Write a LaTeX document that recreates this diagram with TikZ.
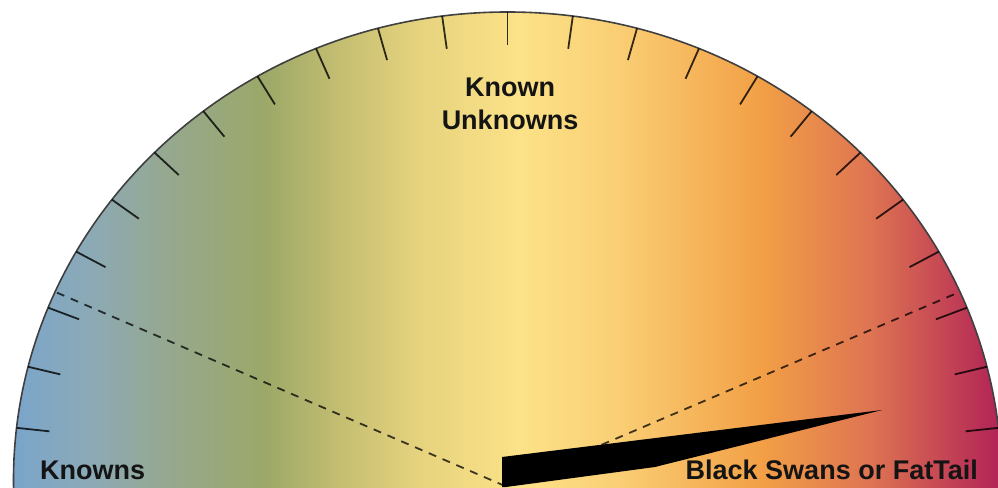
\documentclass[tikz,border=0pt]{standalone}
\usepackage{fontspec}
\setmainfont{Liberation Sans}
\usetikzlibrary{calc}
\definecolor{s0}{RGB}{118,164,206}
\definecolor{s1}{RGB}{140,170,182}
\definecolor{s2}{RGB}{150,168,142}
\definecolor{s3}{RGB}{156,168,104}
\definecolor{s4}{RGB}{196,190,114}
\definecolor{s5}{RGB}{230,211,126}
\definecolor{s6}{RGB}{252,226,136}
\definecolor{s7}{RGB}{250,206,116}
\definecolor{s8}{RGB}{242,160,70}
\definecolor{s9}{RGB}{222,116,82}
\definecolor{s10}{RGB}{178,36,86}
\definecolor{inkc}{RGB}{20,20,20}
\begin{document}
\begin{tikzpicture}[x=1pt,y=1pt,
  tickmark/.style={line width=1.8pt, draw=black, draw opacity=0.8},
  dashline/.style={line width=1.8pt, draw=black, draw opacity=0.75, dash pattern=on 8pt off 7pt},
  rim/.style={line width=1.6pt, draw=black!75},
  lbl/.style={font=\fontsize{27}{33}\selectfont\bfseries, text=inkc, inner sep=0pt}]
\useasboundingbox (0,0) rectangle (998,487);
\coordinate (C) at (507.5,7);
\coordinate (piv) at (505,1);
% gradient fill
\begin{scope}
  \clip (0,0) rectangle (998,487);
  \clip (C) ellipse [x radius=494, y radius=468];
  \shade[left color=s0, right color=s1] (0,0) rectangle (90,487);
  \shade[left color=s1, right color=s2] (90,0) rectangle (170,487);
  \shade[left color=s2, right color=s3] (170,0) rectangle (265,487);
  \shade[left color=s3, right color=s4] (265,0) rectangle (340,487);
  \shade[left color=s4, right color=s5] (340,0) rectangle (420,487);
  \shade[left color=s5, right color=s6] (420,0) rectangle (520,487);
  \shade[left color=s6, right color=s7] (520,0) rectangle (620,487);
  \shade[left color=s7, right color=s8] (620,0) rectangle (760,487);
  \shade[left color=s8, right color=s9] (760,0) rectangle (870,487);
  \shade[left color=s9, right color=s10] (870,0) rectangle (998,487);
\end{scope}
% rim
\begin{scope}
  \clip (0,0) rectangle (998,487);
  \draw[rim] (C) ellipse [x radius=494, y radius=468];
\end{scope}
% ticks
\foreach \k in {-11,...,11}{
  \pgfmathsetmacro\ang{90+7.6*\k}
  \coordinate (o\k) at ({507.5+494*cos(\ang)},{7+468*sin(\ang)});
  \draw[tickmark] (o\k) -- ($(o\k)!33pt!(C)$);
}
% dashed lines
\coordinate (dl) at ({507.5+494*cos(156.3)},{7+468*sin(156.3)});
\coordinate (dr) at ({507.5+494*cos(23.7)},{7+468*sin(23.7)});
\draw[dashline] (piv) -- (dl);
\draw[dashline] (piv) -- (dr);
% needle
\fill[black] (502,30) -- (882,77) -- (655,20) -- (506,0) -- (502,0) -- cycle;
% labels
\node[lbl, anchor=base] (ku1) at (510,390) {Known};
\node[lbl, anchor=base] (ku2) at (510,357) {Unknowns};
\node[lbl, anchor=base west] (kn) at (40,7) {Knowns};
\node[lbl, anchor=base east] (bs) at (978,7) {Black Swans or FatTail};
\end{tikzpicture}
\end{document}
